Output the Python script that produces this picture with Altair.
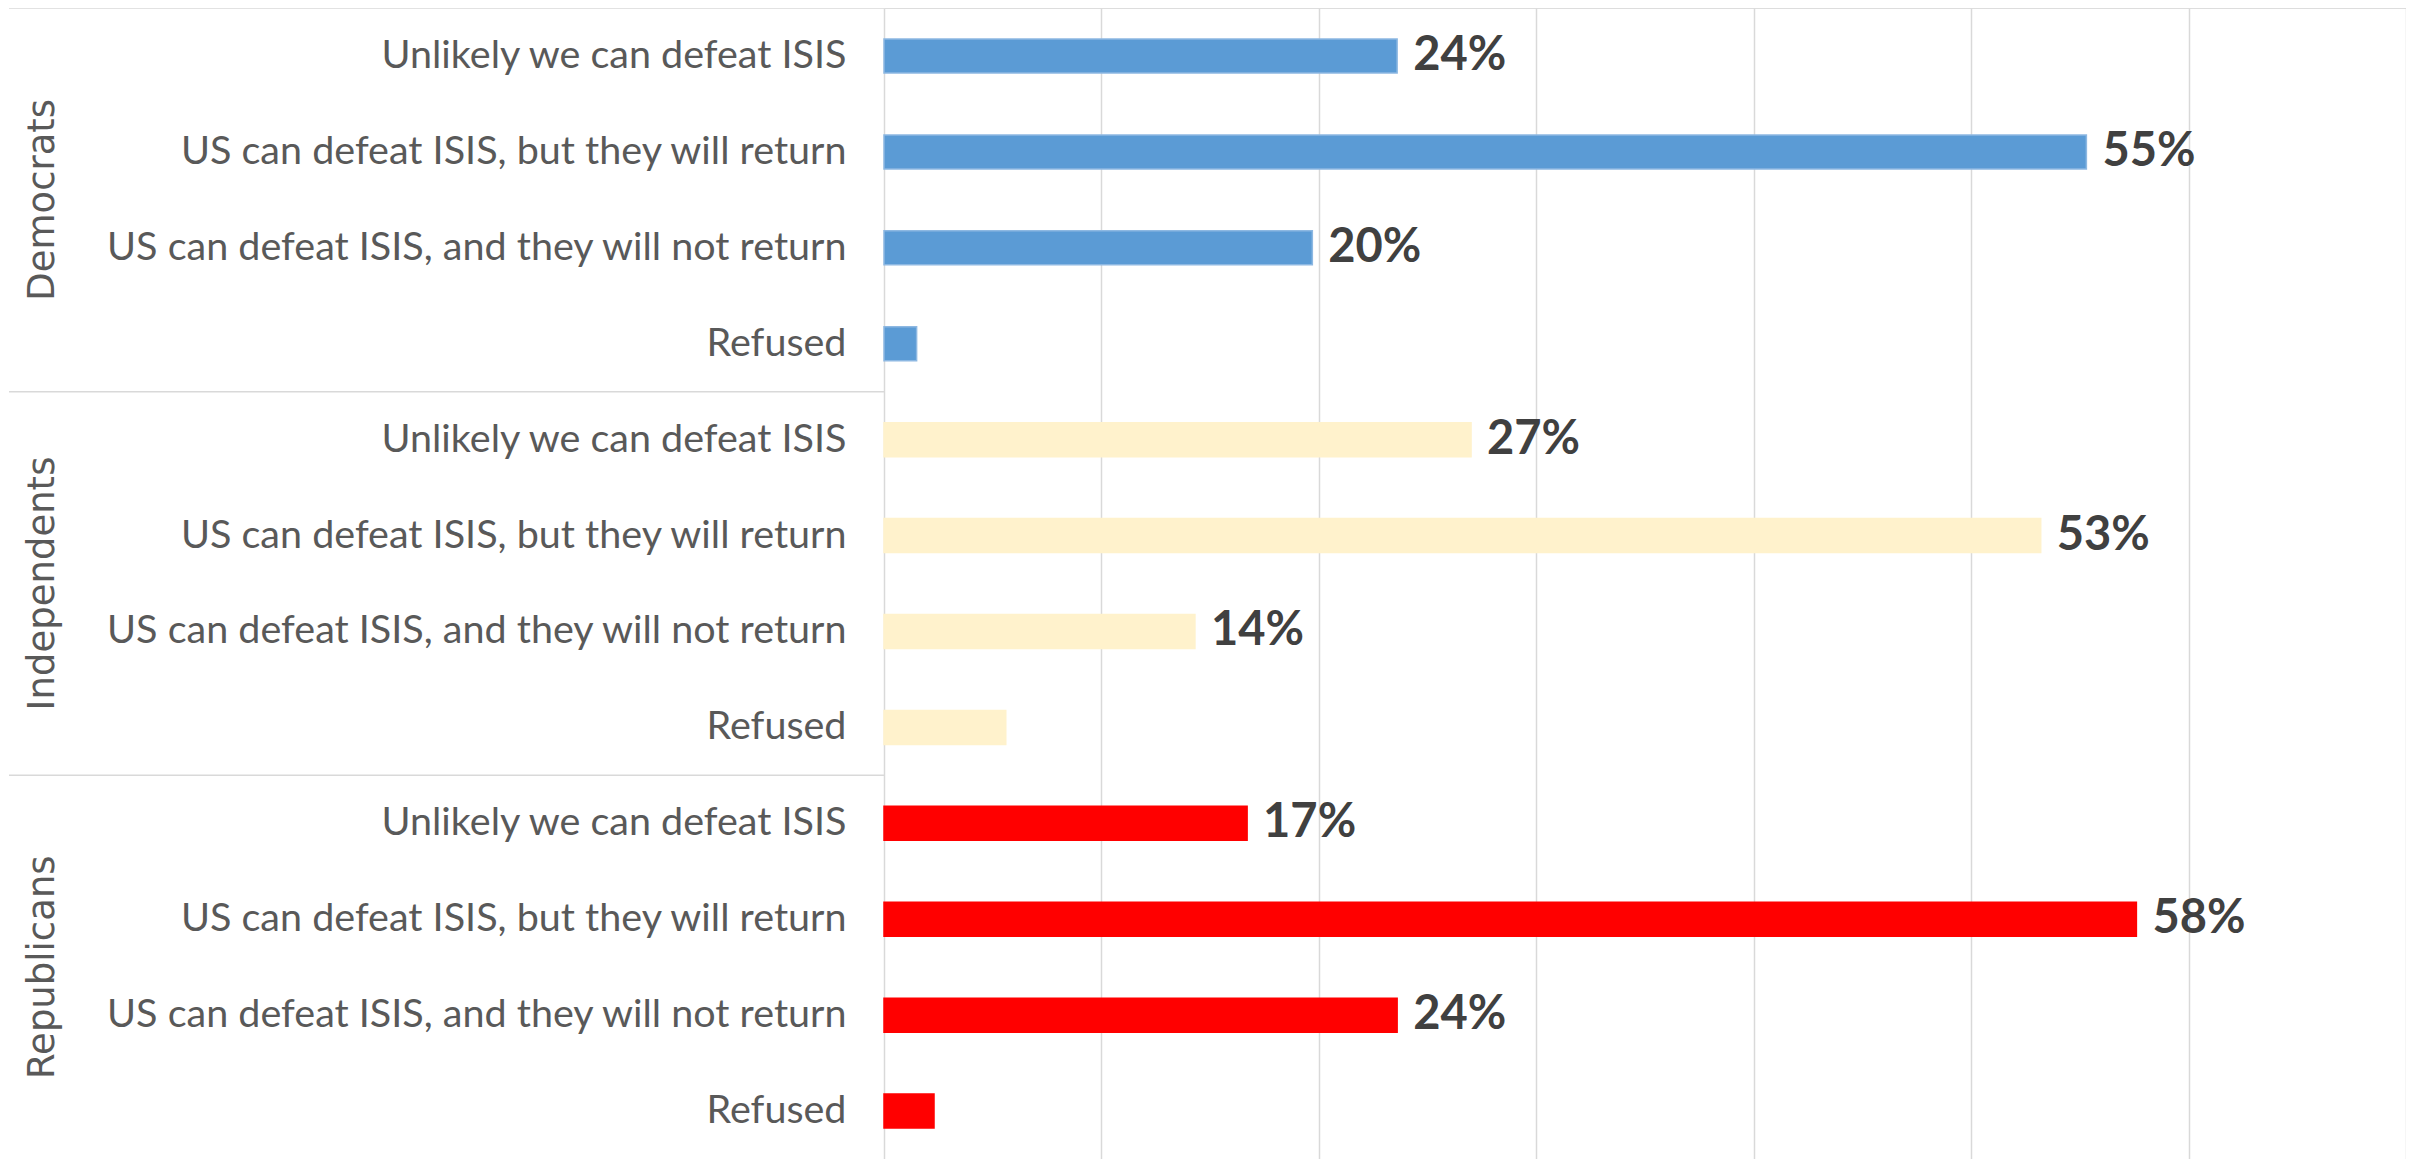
import altair as alt
import pandas as pd

groups = ["Democrats", "Independents", "Republicans"]
categories = [
    "Unlikely we can defeat ISIS",
    "US can defeat ISIS, but they will return",
    "US can defeat ISIS, and they will not return",
    "Refused",
]
dem_values = [23.6, 55.3, 19.7, 1.5]
ind_values = [27.0, 53.2, 14.3, 5.6]
rep_values = [16.7, 57.6, 23.6, 2.3]
dem_labels = ["24%", "55%", "20%", ""]
ind_labels = ["27%", "53%", "14%", ""]
rep_labels = ["17%", "58%", "24%", ""]
group_colors = ["#5B9BD5", "#FFF2CC", "#FF0000"]
group_edges = ["#8DB8E2", "#FFF2CC", "#FF0000"]
x_ticks = [0, 10, 20, 30, 40, 50, 60, 70]

rows = []
for g, vals, labs in zip(groups, [dem_values, ind_values, rep_values],
                         [dem_labels, ind_labels, rep_labels]):
    for c, v, l in zip(categories, vals, labs):
        rows.append({"group": g, "category": c, "row": g + "|" + c,
                     "value": v, "label": l})
df = pd.DataFrame(rows)
row_order = list(df["row"])

first_rows = pd.DataFrame({"row": [g + "|" + categories[0] for g in groups]})
mid_rows = pd.DataFrame({"row": [g + "|" + categories[1] for g in groups],
                         "group": groups})

W, H = 1522, 1151
yscale = alt.Scale(domain=row_order, paddingInner=0, paddingOuter=0)
xscale = alt.Scale(domain=[0, 70], nice=False, zero=True)

bars = alt.Chart(df).mark_bar(size=34, strokeWidth=1.5).encode(
    y=alt.Y("row:N", scale=yscale, sort=row_order, title=None,
            axis=alt.Axis(labelExpr="split(datum.label, '|')[1]",
                          labelFont="Lato", labelFontSize=39.5,
                          labelColor="#595959", labelPadding=38,
                          labelLimit=1000, ticks=False, domain=False,
                          grid=False)),
    x=alt.X("value:Q", scale=xscale, title=None,
            axis=alt.Axis(values=x_ticks, labels=False, ticks=False,
                          domain=False, grid=True, gridColor="#D9D9D9",
                          gridWidth=1.5)),
    color=alt.Color("group:N", scale=alt.Scale(domain=groups, range=group_colors),
                    legend=None),
    stroke=alt.Stroke("group:N", scale=alt.Scale(domain=groups, range=group_edges),
                      legend=None),
)

texts = alt.Chart(df).mark_text(
    align="left", baseline="middle", dx=16, font="Lato", fontSize=47,
    fontWeight="bold", color="#404040"
).encode(
    y=alt.Y("row:N", scale=yscale, sort=row_order),
    x=alt.X("value:Q", scale=xscale),
    text="label:N",
)

seps = alt.Chart(first_rows).mark_rule(color="#D9D9D9", strokeWidth=1.5).encode(
    y=alt.Y("row:N", scale=yscale, sort=row_order, bandPosition=0),
    x=alt.value(-875),
    x2=alt.value(0),
)

glabels = alt.Chart(mid_rows).mark_text(
    angle=270, align="center", baseline="middle", font="DejaVu Sans",
    fontSize=37, color="#595959"
).encode(
    y=alt.Y("row:N", scale=yscale, sort=row_order, bandPosition=1),
    x=alt.value(-841),
    text="group:N",
)

chart = alt.layer(bars, texts, seps, glabels).properties(
    width=W, height=H,
    autosize=alt.AutoSizeParams(type="none"),
    padding={"left": 876, "top": 0, "right": 0, "bottom": 0},
).configure_view(stroke=None).configure(background="white")

chart.save("out.html", embed_options={"renderer": "svg", "actions": False})
